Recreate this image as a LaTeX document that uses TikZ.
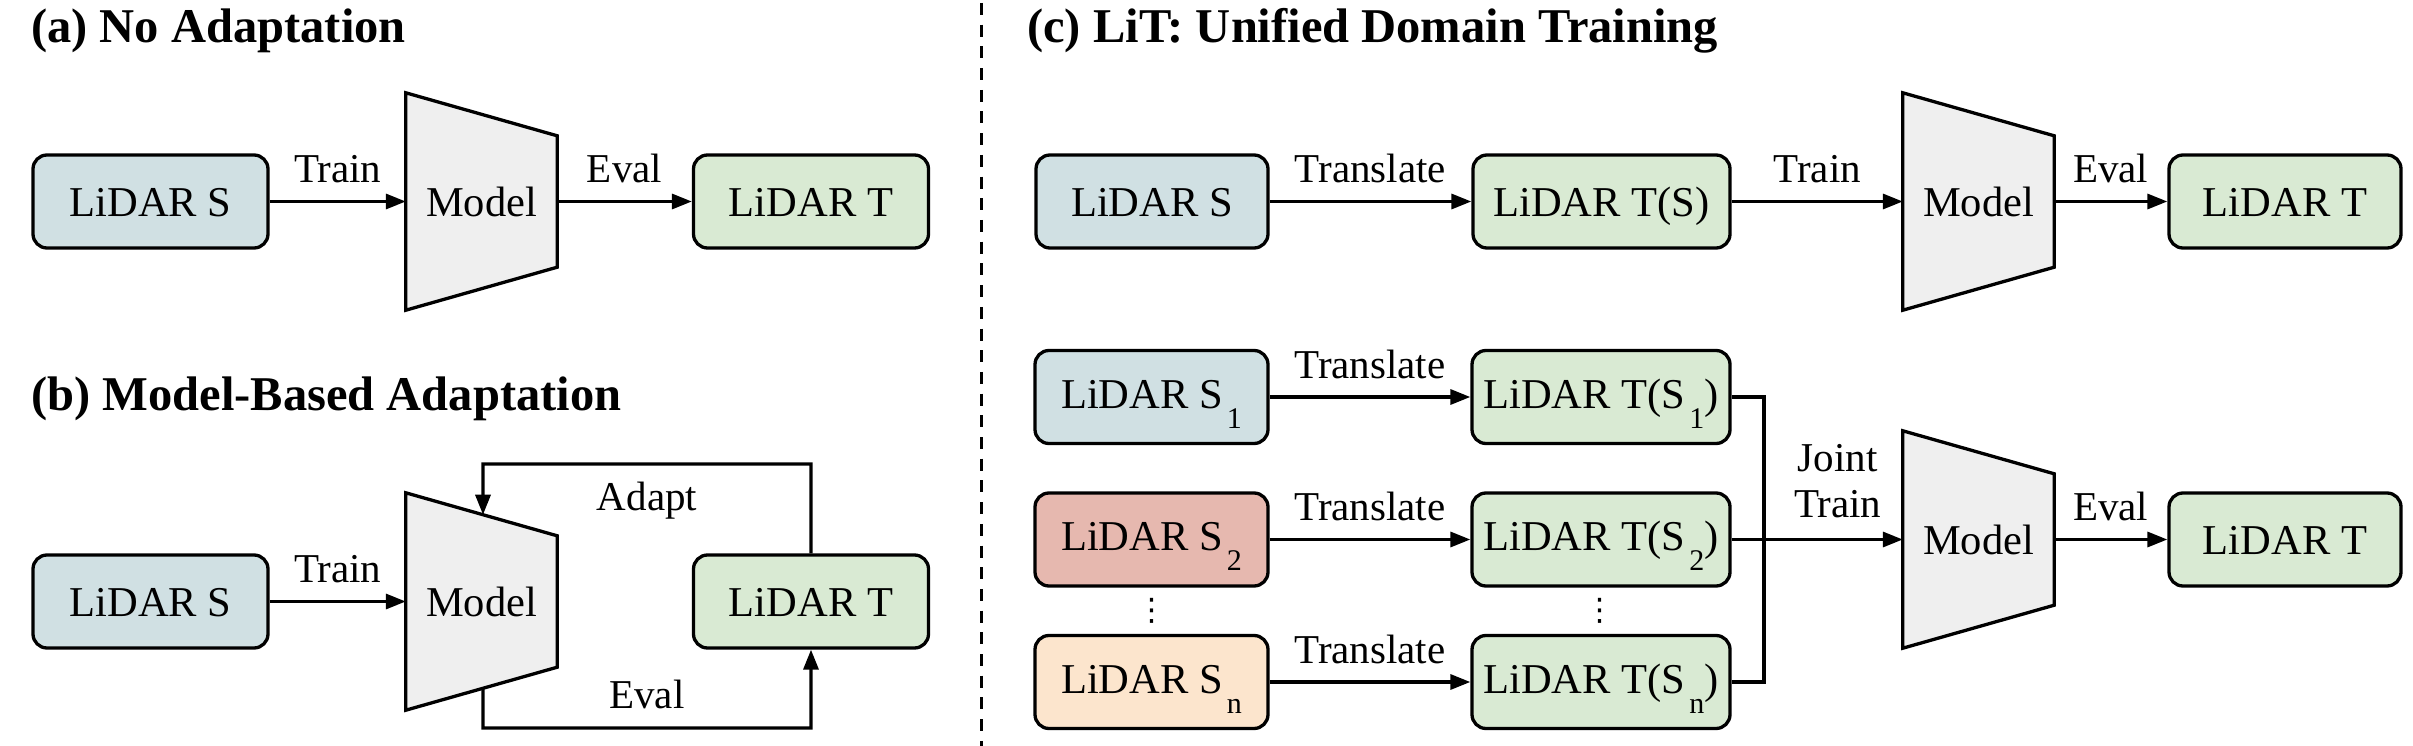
\documentclass[tikz,border=0pt]{standalone}
\usepackage{fontspec}
\setmainfont{Liberation Serif}
\newfontfamily\symfont{DejaVu Sans}
\usetikzlibrary{arrows.meta,backgrounds,calc}
\definecolor{cblue}{HTML}{D0E0E3}
\definecolor{cgreen}{HTML}{D9EAD3}
\definecolor{cred}{HTML}{E6B8AF}
\definecolor{cpeach}{HTML}{FCE5CD}
\definecolor{cgray}{HTML}{EFEFEF}
\newcommand\boxfont{\fontsize{42.5}{50}\selectfont}
\newcommand\lblfont{\fontsize{41}{46}\selectfont}
\newcommand\ttlfont{\fontsize{48.5}{54}\selectfont\bfseries}
\newcommand\subs[1]{\hspace{4pt}\raisebox{-20pt}{\fontsize{30}{30}\selectfont #1}}
\newcommand\drawmodel[1]{%
  \begin{pgfonlayer}{background}
  \draw[modelshape] (#1.north west) -- (#1.south west) -- ([yshift=43pt]#1.south east) -- ([yshift=-43pt]#1.north east) -- cycle;
  \end{pgfonlayer}}
\tikzset{
  box/.style={draw, line width=3.3pt, rounded corners=14pt, minimum width=235pt, minimum height=93pt,
    inner sep=0pt, text height=30pt, text depth=0pt, font=\boxfont},
  subbox/.style={box, text depth=8pt},
  modelnode/.style={minimum width=151pt, minimum height=217pt, inner sep=0pt, text height=30pt, text depth=0pt, font=\boxfont},
  modelshape/.style={draw, fill=cgray, line width=3.3pt, line join=miter},
  arr/.style={line width=3.3pt, -{Triangle[length=20pt,width=15pt]}},
  conn/.style={line width=3.3pt},
  lblfree/.style={font=\lblfont, anchor=base, inner sep=0pt},
  lbl/.style={lblfree, yshift=19pt},
  ttl/.style={font=\ttlfont, anchor=base west, inner sep=0pt},
  dots/.style={font=\symfont\fontsize{31}{31}\selectfont, inner sep=0pt},
}
\begin{document}
\begin{tikzpicture}[x=1pt,y=-1pt]
\begin{pgfonlayer}{background}
\fill[white] (0,0) rectangle (2413,746);
\end{pgfonlayer}
\useasboundingbox (0,0) rectangle (2413,746);

% titles
\node[ttl] (ta) at (31,43) {(a) No Adaptation};
\node[ttl] (tb) at (31,410) {(b) Model-Based Adaptation};
\node[ttl] (tc) at (1027,43) {(c) LiT: Unified Domain Training};

% divider
\draw[line width=3pt, dash pattern=on 12pt off 9.7pt] (981,3) -- (981,746);

% (a)
\node[box, fill=cblue] (aS) at (150.5,201.5) {LiDAR S};
\node[modelnode] (aM) at (481.5,201.5) {Model};
\drawmodel{aM}
\node[box, fill=cgreen] (aT) at (811,201.5) {LiDAR T};
\draw[arr] (aS) -- node[lbl]{Train} (aM);
\draw[arr] (aM) -- node[lbl]{Eval} (aT);

% (b)
\node[box, fill=cblue] (bS) at (150.5,601.5) {LiDAR S};
\node[modelnode] (bM) at (481.5,601.5) {Model};
\drawmodel{bM}
\node[box, fill=cgreen] (bT) at (811,601.5) {LiDAR T};
\draw[arr] (bS) -- node[lbl]{Train} (bM);
\coordinate (bMtop) at ($(bM.north west)!0.51!([yshift=-43pt]bM.north east)$);
\coordinate (bMbot) at ($(bM.south west)!0.51!([yshift=43pt]bM.south east)$);
\coordinate (bAdapt) at (483,464);
\coordinate (bEvalBL) at (483,728);
\draw[arr] (bT.north) |- node[lblfree, pos=0.75, yshift=-46pt]{Adapt} (bAdapt) -- (bMtop);
\draw[arr] (bMbot) -- (bEvalBL) -| node[lblfree, pos=0.25, yshift=20pt]{Eval} (bT.south);

% (c) top row
\node[box, fill=cblue, minimum width=232pt] (cS) at (1152,201.5) {LiDAR S};
\node[box, fill=cgreen, minimum width=257pt] (cTS) at (1601.5,201.5) {LiDAR T(S)};
\node[modelnode] (cM) at (1978.5,201.5) {Model};
\drawmodel{cM}
\node[box, fill=cgreen, minimum width=232pt] (cT) at (2285,201.5) {LiDAR T};
\draw[arr] (cS) -- node[lbl]{Translate} (cTS);
\draw[arr] (cTS) -- node[lbl]{Train} (cM);
\draw[arr] (cM) -- node[lbl]{Eval} (cT);

% (c) bottom
\node[subbox, fill=cblue, minimum width=233pt] (s1) at (1151.5,397) {LiDAR S\subs{1}};
\node[subbox, fill=cred, minimum width=233pt] (s2) at (1151.5,539.5) {LiDAR S\subs{2}};
\node[subbox, fill=cpeach, minimum width=233pt] (sn) at (1151.5,682) {LiDAR S\subs{n}};
\node[subbox, fill=cgreen, minimum width=258pt] (t1) at (1601,397) {LiDAR T(S\subs{1})};
\node[subbox, fill=cgreen, minimum width=258pt] (t2) at (1601,539.5) {LiDAR T(S\subs{2})};
\node[subbox, fill=cgreen, minimum width=258pt] (tn) at (1601,682) {LiDAR T(S\subs{n})};
\node[dots] (d1) at (1151.5,610.5) {⋮};
\node[dots] (d2) at (1600,610.5) {⋮};
\draw[arr] (s1) -- node[lbl]{Translate} (t1);
\draw[arr] (s2) -- node[lbl]{Translate} (t2);
\draw[arr] (sn) -- node[lbl]{Translate} (tn);
\coordinate (busT) at (1764,397);
\coordinate (busB) at (1764,682);
\draw[conn] (t1.east) -- (busT) -- (busB) -- (tn.east);
\node[modelnode] (cM2) at (1978.5,539.5) {Model};
\drawmodel{cM2}
\node[box, fill=cgreen, minimum width=232pt] (cT2) at (2285,539.5) {LiDAR T};
\draw[arr] (t2) -- node[font=\lblfont, inner sep=0pt, anchor=south, align=center, pos=0.62, yshift=19.5pt]{Joint\\Train} (cM2);
\draw[arr] (cM2) -- node[lbl]{Eval} (cT2);
\end{tikzpicture}
\end{document}
